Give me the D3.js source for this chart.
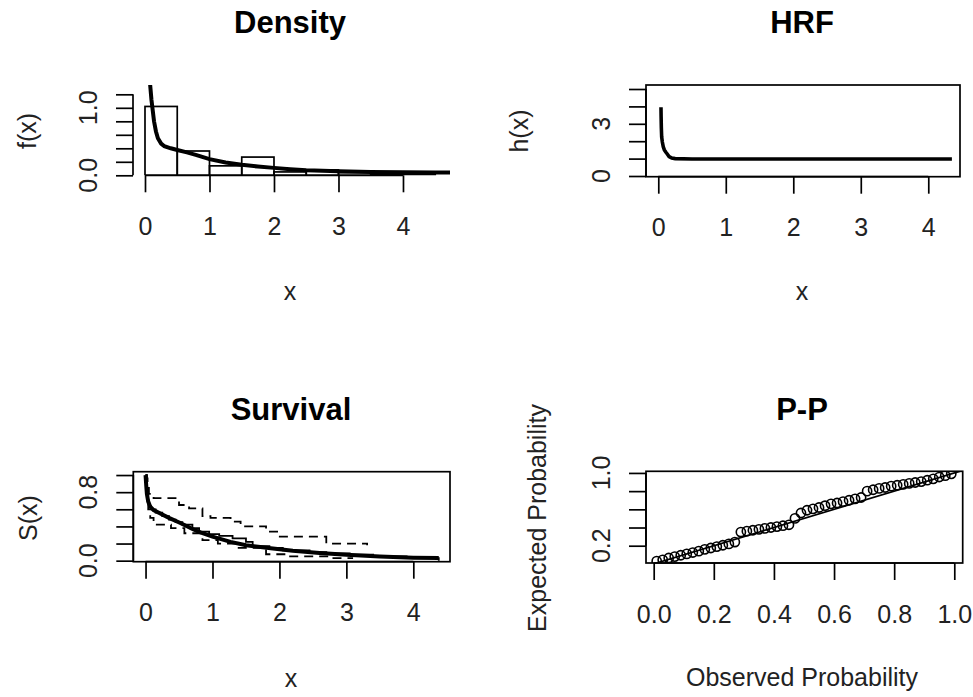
<!DOCTYPE html>
<html>
<head>
<meta charset="utf-8">
<script src="https://cdn.jsdelivr.net/npm/d3@7"></script>
<style>
  body { margin: 0; background: #fff; }
  text { font-family: "Liberation Sans", Arial, sans-serif; }
</style>
</head>
<body>
<svg id="chart" width="973" height="697"></svg>
<script>
// ---- Density panel: histogram of the sample and fitted density ----
const histBreaks = [0, 0.5, 1, 1.5, 2, 2.5, 3, 3.5, 4, 4.5];
const histDensity = [1.02, 0.36, 0.14, 0.27, 0.05, 0.08, 0.04, 0.02, 0.01];
const densX = [0.08, 0.10, 0.12, 0.14, 0.17, 0.20, 0.25, 0.30, 0.40, 0.50, 0.65, 0.80, 1.00, 1.25, 1.50, 1.75, 2.00, 2.25, 2.50, 3.00, 3.50, 4.00, 4.50, 4.73];
const densF = [1.34, 1.12, 0.96, 0.80, 0.65, 0.55, 0.47, 0.43, 0.40, 0.375, 0.34, 0.30, 0.24, 0.19, 0.155, 0.13, 0.11, 0.09, 0.075, 0.06, 0.05, 0.045, 0.04, 0.04];

// ---- HRF panel: fitted hazard rate ----
const hrfX = [0.04, 0.042, 0.045, 0.05, 0.06, 0.074, 0.09, 0.11, 0.13, 0.16, 0.20, 0.25, 0.5, 1, 2, 3, 4, 4.35];
const hrfH = [3.95, 3.4, 2.8, 2.25, 1.95, 1.68, 1.5, 1.38, 1.28, 1.12, 1.03, 1.0, 0.98, 0.98, 0.98, 0.98, 0.98, 0.98];

// ---- Survival panel: fitted survival, Kaplan-Meier estimate and its bounds ----
const survX = [0, 0.01, 0.02, 0.04, 0.07, 0.12, 0.22, 0.35, 0.52, 0.70, 0.82, 1.00, 1.27, 1.50, 1.87, 2.20, 2.60, 3.00, 3.50, 4.00, 4.38];
const survS = [1.0, 0.88, 0.78, 0.69, 0.63, 0.59, 0.55, 0.50, 0.44, 0.37, 0.33, 0.28, 0.22, 0.18, 0.145, 0.115, 0.09, 0.07, 0.05, 0.035, 0.03];
const kmTime = [0, 0.01, 0.02, 0.03, 0.05, 0.08, 0.15, 0.25, 0.35, 0.45, 0.55, 0.70, 0.80, 0.95, 1.10, 1.30, 1.50, 1.60, 1.85, 2.05, 2.45, 2.70, 3.05, 3.40, 3.90, 4.38];
const kmSurv = [1.0, 0.90, 0.80, 0.70, 0.64, 0.60, 0.56, 0.52, 0.48, 0.45, 0.42, 0.38, 0.34, 0.31, 0.29, 0.26, 0.22, 0.17, 0.15, 0.12, 0.10, 0.085, 0.07, 0.05, 0.03, 0.0];
const upperTime = [0, 0.02, 0.03, 0.05, 0.12, 0.50, 0.65, 0.85, 0.97, 1.27, 1.42, 1.80, 1.98, 2.70, 3.31, 3.31];
const upperSurv = [1.0, 0.96, 0.85, 0.78, 0.73, 0.65, 0.61, 0.52, 0.50, 0.455, 0.40, 0.34, 0.28, 0.20, 0.18, 0.18];
const lowerTime = [0, 0.02, 0.04, 0.07, 0.12, 0.38, 0.58, 0.85, 1.08, 1.35, 1.80, 2.10, 2.75, 3.10];
const lowerSurv = [1.0, 0.80, 0.60, 0.50, 0.42, 0.38, 0.32, 0.24, 0.20, 0.15, 0.075, 0.05, 0.03, 0.03];

// ---- P-P panel: observed vs expected probabilities ----
const ppObserved = [0.01, 0.03, 0.05, 0.07, 0.09, 0.11, 0.13, 0.15, 0.17, 0.19,
                    0.21, 0.23, 0.25, 0.27, 0.29, 0.31, 0.33, 0.35, 0.37, 0.39,
                    0.41, 0.43, 0.45, 0.47, 0.49, 0.51, 0.53, 0.55, 0.57, 0.59,
                    0.61, 0.63, 0.65, 0.67, 0.69, 0.71, 0.73, 0.75, 0.77, 0.79,
                    0.81, 0.83, 0.85, 0.87, 0.89, 0.91, 0.93, 0.95, 0.97, 0.99];
const ppExpected = [0.03, 0.045, 0.065, 0.08, 0.095, 0.11, 0.125, 0.14, 0.16, 0.175,
                    0.19, 0.205, 0.22, 0.24, 0.35, 0.36, 0.37, 0.38, 0.39, 0.40,
                    0.41, 0.42, 0.43, 0.50, 0.56, 0.59, 0.605, 0.62, 0.64, 0.66,
                    0.67, 0.685, 0.70, 0.715, 0.73, 0.80, 0.815, 0.83, 0.84, 0.855,
                    0.865, 0.875, 0.885, 0.895, 0.905, 0.92, 0.935, 0.955, 0.97, 0.99];

// ---- Axis ticks and labels ----
const densXTicks = [0, 1, 2, 3, 4];
const densYTicks = [0, 0.2, 0.4, 0.6, 0.8, 1.0, 1.2];
const densYLabels = [0, 1.0];
const hrfXTicks = [0, 1, 2, 3, 4];
const hrfYTicks = [0, 1, 2, 3, 4, 5];
const hrfYLabels = [0, 3];
const survXTicks = [0, 1, 2, 3, 4];
const survYTicks = [0, 0.2, 0.4, 0.6, 0.8, 1.0];
const survYLabels = [0, 0.8];
const ppXTicks = [0, 0.2, 0.4, 0.6, 0.8, 1.0];
const ppYTicks = [0.2, 0.4, 0.6, 0.8, 1.0];
const ppYLabels = [0.2, 1.0];

const svg = d3.select('#chart');
svg.append('rect').attr('width', 973).attr('height', 697).attr('fill', '#fff');

const AXIS_FONT = 25, TITLE_FONT = 31, TICK = 17, LW = 1.7;

function panel(p) {
  const x = d3.scaleLinear().domain(p.xlim).range([p.left, p.right]);
  const y = d3.scaleLinear().domain(p.ylim).range([p.bottom, p.top]);
  const g = svg.append('g');
  const clipId = 'clip-' + p.id;
  svg.append('clipPath').attr('id', clipId)
    .append('rect').attr('x', p.left).attr('y', p.top)
    .attr('width', p.right - p.left).attr('height', p.bottom - p.top);
  const plot = g.append('g').attr('clip-path', `url(#${clipId})`);

  // x axis: line spans first to last tick
  const ax = d3.axisBottom(x).tickValues(p.xTicks).tickSize(TICK)
    .tickPadding(25).tickFormat(p.xFmt);
  const gx = g.append('g').attr('transform', `translate(0,${p.bottom})`).call(ax);
  gx.select('.domain').remove();
  gx.append('line').attr('x1', x(p.xTicks[0])).attr('x2', x(p.xTicks[p.xTicks.length - 1]))
    .attr('stroke', '#000').attr('stroke-width', LW);
  gx.selectAll('.tick line').attr('stroke-width', LW);
  gx.selectAll('.tick text').attr('font-size', AXIS_FONT).attr('fill', '#222')
    .attr('font-family', '"Liberation Sans", Arial, sans-serif');

  // y axis: ticks, rotated labels
  const ay = d3.axisLeft(y).tickValues(p.yTicks).tickSize(TICK).tickFormat('');
  const gy = g.append('g').attr('transform', `translate(${p.left},0)`).call(ay);
  gy.select('.domain').remove();
  gy.append('line').attr('y1', y(p.yTicks[0])).attr('y2', y(p.yTicks[p.yTicks.length - 1]))
    .attr('stroke', '#000').attr('stroke-width', LW);
  gy.selectAll('.tick line').attr('stroke-width', LW);
  p.yLabels.forEach(v => {
    const cx = p.left - 45, cy = y(v);
    g.append('text').attr('transform', `translate(${cx},${cy}) rotate(-90)`)
      .attr('text-anchor', 'middle').attr('dy', '0.35em')
      .attr('font-size', AXIS_FONT).attr('fill', '#222').text(p.yFmt(v));
  });

  if (p.box) {
    g.append('rect').attr('x', p.left).attr('y', p.top)
      .attr('width', p.right - p.left).attr('height', p.bottom - p.top)
      .attr('fill', 'none').attr('stroke', '#000').attr('stroke-width', LW);
  }

  // titles
  g.append('text').attr('x', p.titleX).attr('y', p.titleY).attr('text-anchor', 'middle')
    .attr('font-size', TITLE_FONT).attr('font-weight', 'bold').attr('fill', '#000').text(p.title);
  g.append('text').attr('x', p.titleX).attr('y', p.xlabY).attr('text-anchor', 'middle')
    .attr('font-size', AXIS_FONT).attr('fill', '#222').text(p.xlab);
  g.append('text').attr('transform', `translate(${p.ylabX},${p.ylabCY}) rotate(-90)`)
    .attr('text-anchor', 'middle').attr('dy', '0.35em')
    .attr('font-size', AXIS_FONT).attr('fill', '#222').text(p.ylab);

  return { x, y, plot, g };
}

const fmtInt = d3.format('d');
const fmt1 = d3.format('.1f');

// Density
{
  const P = panel({
    id: 'dens', left: 133, right: 450, top: 85, bottom: 175.3,
    xlim: [-0.186, 4.729], ylim: [0, 1.338],
    xTicks: densXTicks, xFmt: fmtInt, yTicks: densYTicks, yLabels: densYLabels, yFmt: fmt1,
    box: false, title: 'Density', titleX: 290, titleY: 33, xlab: 'x', xlabY: 300,
    ylab: 'f(x)', ylabX: 27, ylabCY: 131
  });
  const bars = histDensity.map((d, i) => ({ x0: histBreaks[i], x1: histBreaks[i + 1], d }));
  P.plot.selectAll('rect.bar').data(bars).enter().append('rect').attr('class', 'bar')
    .attr('x', b => P.x(b.x0)).attr('width', b => P.x(b.x1) - P.x(b.x0))
    .attr('y', b => P.y(b.d)).attr('height', b => P.y(0) - P.y(b.d))
    .attr('fill', 'none').attr('stroke', '#000').attr('stroke-width', LW);
  P.plot.append('path').datum(densX.map((v, i) => [v, densF[i]]))
    .attr('d', d3.line().x(d => P.x(d[0])).y(d => P.y(d[1])))
    .attr('fill', 'none').attr('stroke', '#000').attr('stroke-width', 4);
}

// HRF
{
  const P = panel({
    id: 'hrf', left: 646, right: 960, top: 85, bottom: 176.7,
    xlim: [-0.182, 4.47], ylim: [-0.04, 5.23],
    xTicks: hrfXTicks, xFmt: fmtInt, yTicks: hrfYTicks, yLabels: hrfYLabels, yFmt: fmtInt,
    box: true, title: 'HRF', titleX: 802, titleY: 33, xlab: 'x', xlabY: 300,
    ylab: 'h(x)', ylabX: 519, ylabCY: 131
  });
  P.plot.append('path').datum(hrfX.map((v, i) => [v, hrfH[i]]))
    .attr('d', d3.line().x(d => P.x(d[0])).y(d => P.y(d[1])))
    .attr('fill', 'none').attr('stroke', '#000').attr('stroke-width', 3.6);
}

// Survival
{
  const P = panel({
    id: 'surv', left: 133.3, right: 450, top: 471.7, bottom: 561.7,
    xlim: [-0.183, 4.548], ylim: [-0.012, 1.039],
    xTicks: survXTicks, xFmt: fmtInt, yTicks: survYTicks, yLabels: survYLabels, yFmt: fmt1,
    box: true, title: 'Survival', titleX: 291, titleY: 420, xlab: 'x', xlabY: 687,
    ylab: 'S(x)', ylabX: 28, ylabCY: 518
  });
  const step = d3.line().curve(d3.curveStepAfter).x(d => P.x(d[0])).y(d => P.y(d[1]));
  const line = d3.line().x(d => P.x(d[0])).y(d => P.y(d[1]));
  P.plot.append('path').datum(upperTime.map((t, i) => [t, upperSurv[i]]))
    .attr('d', step).attr('fill', 'none').attr('stroke', '#000')
    .attr('stroke-width', 1.8).attr('stroke-dasharray', '9,6');
  P.plot.append('path').datum(lowerTime.map((t, i) => [t, lowerSurv[i]]))
    .attr('d', step).attr('fill', 'none').attr('stroke', '#000')
    .attr('stroke-width', 1.8).attr('stroke-dasharray', '9,6');
  P.plot.append('path').datum(kmTime.map((t, i) => [t, kmSurv[i]]))
    .attr('d', step).attr('fill', 'none').attr('stroke', '#000').attr('stroke-width', 1.8);
  P.plot.append('path').datum(survX.map((t, i) => [t, survS[i]]))
    .attr('d', line).attr('fill', 'none').attr('stroke', '#000').attr('stroke-width', 4);
}

// P-P
{
  const P = panel({
    id: 'pp', left: 646, right: 962.7, top: 471.3, bottom: 563,
    xlim: [-0.0256, 1.028], ylim: [0.0099, 1.018],
    xTicks: ppXTicks, xFmt: fmt1, yTicks: ppYTicks, yLabels: ppYLabels, yFmt: fmt1,
    box: true, title: 'P-P', titleX: 802, titleY: 420, xlab: 'Observed Probability', xlabY: 686,
    ylab: 'Expected Probability', ylabX: 537, ylabCY: 518
  });
  P.plot.append('line')
    .attr('x1', P.x(-0.1)).attr('y1', P.y(-0.1)).attr('x2', P.x(1.1)).attr('y2', P.y(1.1))
    .attr('stroke', '#000').attr('stroke-width', 1.7);
  P.plot.selectAll('circle').data(ppObserved.map((o, i) => [o, ppExpected[i]])).enter()
    .append('circle').attr('cx', d => P.x(d[0])).attr('cy', d => P.y(d[1])).attr('r', 4.6)
    .attr('fill', 'none').attr('stroke', '#000').attr('stroke-width', 1.6);
}
</script>
</body>
</html>
